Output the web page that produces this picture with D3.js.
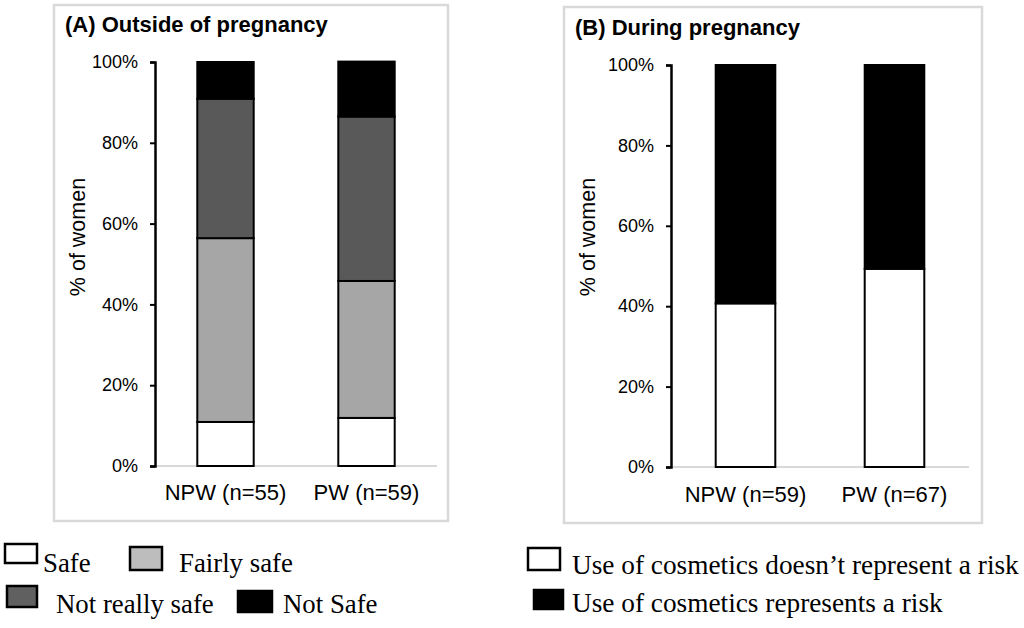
<!DOCTYPE html>
<html>
<head>
<meta charset="utf-8">
<script src="https://cdnjs.cloudflare.com/ajax/libs/d3/7.8.5/d3.min.js"></script>
<style>
  body { margin: 0; background: #fff; }
  svg { display: block; }
  .sans { font-family: "Liberation Sans", Arial, sans-serif; }
  .serif { font-family: "Liberation Serif", "Times New Roman", serif; }
</style>
</head>
<body>
<svg id="chart" width="1024" height="628"></svg>
<script>
// panel A: perception outside pregnancy (% of women)
const groupsA = ["NPW (n=55)", "PW (n=59)"];
const safe = [10.9, 11.9];
const fairlySafe = [45.5, 33.9];
const notReallySafe = [34.5, 40.7];
const notSafe = [9.1, 13.6];

// panel B: during pregnancy
const groupsB = ["NPW (n=59)", "PW (n=67)"];
const noRisk = [40.7, 49.3];
const risk = [59.3, 50.7];

const yTicks = [0, 20, 40, 60, 80, 100];

const svg = d3.select("#chart");

function panel(opt){
  const g = svg.append("g");

  // light grey frame
  g.append("rect")
    .attr("x", opt.box[0]).attr("y", opt.box[1])
    .attr("width", opt.box[2]).attr("height", opt.box[3])
    .attr("fill", "none").attr("stroke", "#d9d9d9").attr("stroke-width", 2.5);

  g.append("text").attr("class", "sans")
    .attr("x", opt.titlePos[0]).attr("y", opt.titlePos[1])
    .attr("font-size", 22).attr("font-weight", "bold")
    .text(opt.title);

  const x = d3.scaleBand().domain(opt.groups)
    .range([opt.left, opt.right]).paddingInner(0.6).paddingOuter(0.3);
  const y = d3.scaleLinear().domain([0, 100]).range([opt.bottom, opt.top]);

  const rows = opt.groups.map((grp, i) => {
    let r = { group: grp };
    opt.keys.forEach((k, j) => r[k] = opt.series[j][i]);
    return r;
  });
  const stacked = d3.stack().keys(opt.keys)(rows);

  // x-axis baseline
  g.append("line")
    .attr("x1", opt.left).attr("x2", opt.right)
    .attr("y1", y(0)).attr("y2", y(0))
    .attr("stroke", "#d9d9d9").attr("stroke-width", 2);

  g.selectAll(".layer").data(stacked).enter().append("g")
    .attr("fill", (d, i) => opt.colors[i])
    .selectAll("rect").data(d => d).enter().append("rect")
      .attr("x", d => x(d.data.group))
      .attr("width", x.bandwidth())
      .attr("y", d => y(d[1]))
      .attr("height", d => y(d[0]) - y(d[1]))
      .attr("stroke", "#000").attr("stroke-width", 2);

  const yAxis = g.append("g")
    .attr("transform", `translate(${opt.left},0)`)
    .call(d3.axisLeft(y).tickValues(yTicks).tickFormat(d => d + "%").tickSize(5).tickPadding(12));
  yAxis.select(".domain").attr("stroke-width", 2.5);
  yAxis.selectAll(".tick line").attr("stroke-width", 2);
  yAxis.selectAll("text").attr("class", "sans").attr("font-size", 18).attr("fill", "#000");

  g.selectAll(".cat").data(opt.groups).enter().append("text")
    .attr("class", "sans")
    .attr("x", d => x(d) + x.bandwidth() / 2)
    .attr("y", opt.catY)
    .attr("text-anchor", "middle").attr("font-size", 22)
    .text(d => d);

  g.append("text").attr("class", "sans")
    .attr("transform", `translate(${opt.ylabelX},237) rotate(-90)`)
    .attr("text-anchor", "middle").attr("font-size", 21.5)
    .text("% of women");
}

panel({
  box: [54, 5, 394, 516], title: "(A) Outside of pregnancy", titlePos: [65, 32],
  groups: groupsA, keys: ["safe", "fairly", "notReally", "notSafe"],
  series: [safe, fairlySafe, notReallySafe, notSafe],
  colors: ["#ffffff", "#a6a6a6", "#595959", "#000000"],
  left: 155, right: 437, top: 62, bottom: 466, catY: 500, ylabelX: 85
});

panel({
  box: [564, 7, 418, 516], title: "(B) During pregnancy", titlePos: [575, 35],
  groups: groupsB, keys: ["noRisk", "risk"],
  series: [noRisk, risk],
  colors: ["#ffffff", "#000000"],
  left: 671, right: 969, top: 65, bottom: 467, catY: 502, ylabelX: 595
});

// legends
const legendA = [
  { label: "Safe", fill: "#ffffff", box: [5, 544, 32, 19], tx: 43, ty: 572 },
  { label: "Fairly safe", fill: "#bdbdbd", box: [130, 547, 32, 23], tx: 179, ty: 572 },
  { label: "Not really safe", fill: "#606060", box: [7, 586, 30, 21], tx: 56, ty: 613 },
  { label: "Not Safe", fill: "#000000", box: [238, 591, 34, 21], tx: 283, ty: 613 }
];
const legendB = [
  { label: "Use of cosmetics doesn\u2019t represent a risk", fill: "#ffffff", box: [528, 548, 32, 22], tx: 572, ty: 574 },
  { label: "Use of cosmetics represents a risk", fill: "#000000", box: [534, 590, 29, 19], tx: 572, ty: 612 }
];

function drawLegend(items, size){
  const lg = svg.append("g");
  const it = lg.selectAll("g").data(items).enter().append("g");
  it.append("rect")
    .attr("x", d => d.box[0]).attr("y", d => d.box[1])
    .attr("width", d => d.box[2]).attr("height", d => d.box[3])
    .attr("fill", d => d.fill).attr("stroke", "#000").attr("stroke-width", 2.5);
  it.append("text").attr("class", "serif")
    .attr("x", d => d.tx).attr("y", d => d.ty)
    .attr("font-size", size)
    .text(d => d.label);
}
drawLegend(legendA, 26.8);
drawLegend(legendB, 27.3);
</script>
</body>
</html>
